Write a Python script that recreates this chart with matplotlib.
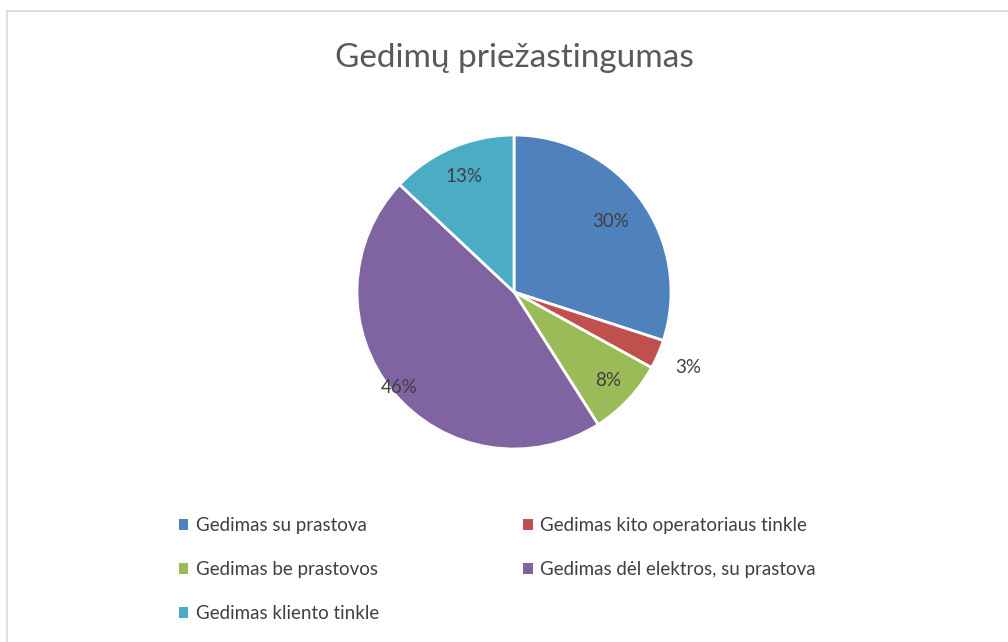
import matplotlib

matplotlib.use("Agg")
import matplotlib.pyplot as plt
import numpy as np
from matplotlib.lines import Line2D

categories = [
    "Gedimas su prastova",
    "Gedimas kito operatoriaus tinkle",
    "Gedimas be prastovos",
    "Gedimas dėl elektros, su prastova",
    "Gedimas kliento tinkle",
]
shares = [30, 3, 8, 46, 13]
colors = ["#4F81BD", "#C0504D", "#9BBB59", "#8064A2", "#4BACC6"]
label_dist = [0.76, 1.21, 0.82, 0.95, 0.80]

plt.rcParams["font.family"] = ["Lato", "DejaVu Sans"]

W, H = 1008, 642
fig = plt.figure(figsize=(W / 100, H / 100), dpi=100)
fig.patch.set_facecolor("white")

# light grey chart frame (top and left edges visible)
fig.add_artist(Line2D([7 / W, 1], [1 - 11 / H, 1 - 11 / H], color="#d9d9d9", lw=1.2))
fig.add_artist(Line2D([7 / W, 7 / W], [0, 1 - 11 / H], color="#d9d9d9", lw=1.2))

cx, cy, r = 514, 292, 157
ax = fig.add_axes([(cx - r) / W, (H - cy - r) / H, 2 * r / W, 2 * r / H])
wedges, _ = ax.pie(
    shares,
    colors=colors,
    startangle=90,
    counterclock=False,
    wedgeprops=dict(edgecolor="white", linewidth=2),
)
for w, val, d in zip(wedges, shares, label_dist):
    mid = np.deg2rad((w.theta1 + w.theta2) / 2)
    ax.text(d * np.cos(mid), d * np.sin(mid), f"{val}%", ha="center", va="center",
            fontsize=13.5, color="#404040")
ax.set_aspect("equal")
ax.set_xlim(-1, 1)
ax.set_ylim(-1, 1)

fig.text(cx / W, 1 - 58 / H, "Gedimų priežastingumas", ha="center", va="center",
         fontsize=24, color="#595959")

# legend fills row by row, matplotlib fills column by column
order = [0, 2, 4, 1, 3]
leg = fig.legend(
    [wedges[i] for i in order],
    [categories[i] for i in order],
    loc="upper left",
    bbox_to_anchor=(162 / W, 1 - 500 / H),
    ncol=2,
    frameon=False,
    fontsize=13.5,
    handlelength=0.5,
    handleheight=0.5,
    handletextpad=0.4,
    columnspacing=7.7,
    labelspacing=1.45,
    labelcolor="#404040",
)
for h in leg.legend_handles:
    h.set_edgecolor("none")

fig.savefig("out.png", dpi=100, facecolor="white")
